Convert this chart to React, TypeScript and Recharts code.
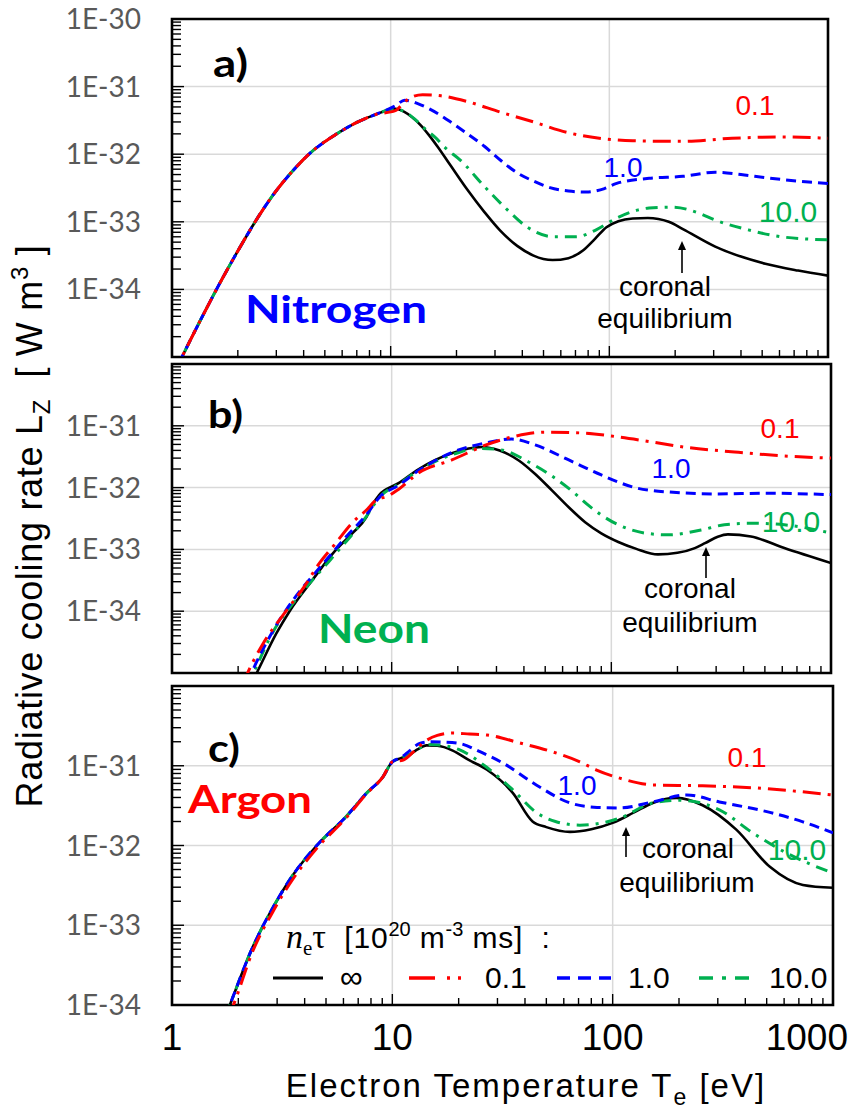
import React from "react";
import { LineChart, Line, XAxis, YAxis, CartesianGrid, ReferenceArea } from "recharts";

// ---------- tick values / labels ----------
const X_MAJOR = [1, 10, 100, 1000];
const X_MAJOR_LABELS = ["1", "10", "100", "1000"];
const MULT = [1, 2, 3, 4, 5, 6, 7, 8, 9];

const yMajorA = [1e-35, 1e-34, 1e-33, 1e-32, 1e-31, 1e-30];
const yLabelsA = ["", "1E-34", "1E-33", "1E-32", "1E-31", "1E-30"];
const yMajorB = [1e-35, 1e-34, 1e-33, 1e-32, 1e-31, 1e-30];
const yLabelsB = ["", "1E-34", "1E-33", "1E-32", "1E-31", ""];
const yMajorC = [1e-34, 1e-33, 1e-32, 1e-31, 1e-30];
const yLabelsC = ["1E-34", "1E-33", "1E-32", "1E-31", ""];

// ---------- Nitrogen ----------
const nRiseT = [1.0, 1.2, 1.45, 1.7, 2.0, 2.4, 2.9, 3.5, 4.4, 5.5, 7.0, 8.5];
const nRiseL = [5.0e-36, 1.66e-35, 5.5e-35, 1.45e-34, 3.7e-34, 1.0e-33, 2.5e-33, 5.3e-33, 1.12e-32, 1.88e-32, 2.95e-32, 3.85e-32];
const nInfT = [10.5, 11.5, 12.5, 13.7, 15, 16.4, 18.8, 22.4, 26.9, 31.7, 37.9, 45, 55, 65, 76, 86, 97, 110, 128, 150, 187, 217, 305, 517, 730, 1000];
const nInfL = [4.7e-32, 4.27e-32, 3.55e-32, 2.7e-32, 1.9e-32, 1.29e-32, 6.8e-33, 3.0e-33, 1.38e-33, 7.4e-34, 4.4e-34, 3.16e-34, 2.72e-34, 2.9e-34, 3.8e-34, 5.6e-34, 8.3e-34, 1.02e-33, 1.12e-33, 1.14e-33, 1.0e-33, 7.8e-34, 4.3e-34, 2.4e-34, 1.9e-34, 1.6e-34];
const n10T = [10.5, 11.5, 12.9, 14.5, 15.9, 18, 20.8, 26.9, 34.2, 42, 55.7, 70.6, 87, 107.6, 152, 195, 256, 305, 432, 613, 1000];
const n10L = [4.7e-32, 4.3e-32, 3.3e-32, 2.3e-32, 1.8e-32, 1.2e-32, 8.2e-33, 3.3e-33, 1.5e-33, 8.4e-34, 6.0e-34, 6.0e-34, 7.6e-34, 1.13e-33, 1.6e-33, 1.65e-33, 1.35e-33, 1.06e-33, 7.6e-34, 6.0e-34, 5.4e-34];
const n1T = [10.5, 11.6, 13.3, 15, 18.8, 22, 26.9, 32, 37.9, 45, 53.5, 65, 78.5, 95, 108, 152, 217, 305, 400, 517, 730, 1000];
const n1L = [5.2e-32, 6.3e-32, 5.6e-32, 4.7e-32, 3.0e-32, 2.1e-32, 1.3e-32, 8.0e-33, 5.3e-33, 4.0e-33, 3.2e-33, 2.85e-33, 2.75e-33, 3.1e-33, 3.7e-33, 4.4e-33, 4.7e-33, 5.4e-33, 5.0e-33, 4.5e-33, 4.0e-33, 3.7e-33];
const n01T = [10.5, 11.5, 12.5, 14, 17, 22.4, 31.7, 45, 64, 90, 128, 217, 364, 613, 1000];
const n01L = [4.4e-32, 5.8e-32, 7.0e-32, 7.6e-32, 7.3e-32, 6.0e-32, 4.2e-32, 3.0e-32, 2.1e-32, 1.72e-32, 1.58e-32, 1.55e-32, 1.72e-32, 1.8e-32, 1.72e-32];

// ---------- Neon ----------
const neInfT = [2.3, 2.43, 2.99, 3.43, 4.3, 5.6, 6.6, 7.66, 8.16, 8.77, 10.8, 13.3, 18.8, 25.7, 31, 37.9, 45, 53.5, 64, 76, 90, 107.6, 130, 163, 200, 240, 267, 305, 339, 432, 613, 1000];
const neInfL = [6.8e-36, 1e-35, 4.4e-35, 1e-34, 3.0e-34, 1e-33, 1.8e-33, 3.3e-33, 5.2e-33, 7.6e-33, 1.19e-32, 2.0e-32, 3.6e-32, 4.54e-32, 3.98e-32, 2.75e-32, 1.66e-32, 9.1e-33, 4.8e-33, 2.75e-33, 1.82e-33, 1.32e-33, 1.02e-33, 8.3e-34, 8.8e-34, 1.05e-33, 1.26e-33, 1.6e-33, 1.75e-33, 1.62e-33, 1.05e-33, 6e-34];
const ne10T = [2.2, 2.35, 2.9, 3.7, 5.3, 7.66, 8.8, 10.8, 13.3, 18.8, 25, 31.6, 42, 53.5, 65.7, 78.5, 90, 107.6, 142, 181, 256, 327, 432, 613, 1000];
const ne10L = [6e-36, 1e-35, 4.8e-35, 1.6e-34, 7e-34, 3.4e-33, 7e-33, 1.15e-32, 1.9e-32, 3.4e-32, 4.3e-32, 4.07e-32, 2.6e-32, 1.55e-32, 9.0e-33, 5.2e-33, 3.6e-33, 2.5e-33, 1.84e-33, 1.72e-33, 2.06e-33, 2.5e-33, 2.65e-33, 2.5e-33, 1.84e-33];
const ne1T = [2.2, 2.3, 2.9, 3.6, 4.8, 6.3, 7.66, 8.8, 10.8, 13.3, 18.8, 26.9, 35.2, 45, 64, 90, 128, 181, 305, 517, 1000];
const ne1L = [7e-36, 1e-35, 5e-35, 1.6e-34, 5.5e-34, 1.7e-33, 3.6e-33, 7e-33, 1.1e-32, 1.9e-32, 3.7e-32, 5.3e-32, 6.1e-32, 4.9e-32, 2.8e-32, 1.6e-32, 1.0e-32, 8.5e-33, 7.9e-33, 8.1e-33, 7.7e-33];
const ne01T = [2.1, 2.21, 2.6, 3.19, 4.0, 4.69, 5.5, 6.62, 7.66, 8.6, 9.45, 10.8, 13.3, 18.8, 26.9, 36.6, 50, 76, 107.6, 152, 217, 364, 613, 1000];
const ne01L = [6.5e-36, 1e-35, 3e-35, 8.5e-35, 2.5e-34, 6e-34, 1.2e-33, 2.7e-33, 4.3e-33, 6.5e-33, 7.1e-33, 9.5e-33, 1.74e-32, 2.8e-32, 4.9e-32, 6.8e-32, 7.9e-32, 7.6e-32, 6.6e-32, 5.5e-32, 4.5e-32, 3.77e-32, 3.25e-32, 3.0e-32];

// ---------- Argon ----------
const arRiseT = [1.75, 1.83, 2.33, 2.87, 3.54, 4.54, 6.2, 7.66, 9.05, 10];
const arRiseL = [7.3e-35, 1e-34, 5.4e-34, 1.66e-33, 4.27e-33, 1.0e-32, 2.34e-32, 4.57e-32, 7.2e-32, 1.12e-31];
const arInfT = [11, 12, 13, 14.3, 16, 18.8, 22, 26.9, 35.2, 43.3, 50, 64, 80, 100, 125, 152, 195, 256, 364, 517, 730, 1000];
const arInfL = [1.25e-31, 1.38e-31, 1.6e-31, 1.8e-31, 1.78e-31, 1.55e-31, 1.2e-31, 8.9e-32, 4.57e-32, 2.0e-32, 1.7e-32, 1.48e-32, 1.6e-32, 1.92e-32, 2.6e-32, 3.42e-32, 3.96e-32, 3.2e-32, 1.58e-32, 5.4e-33, 3.2e-33, 2.95e-33];
const ar10T = [11, 12, 13.5, 15, 17, 20, 26.9, 35.2, 45, 55, 71, 107.6, 152, 200, 305, 432, 613, 1000];
const ar10L = [1.25e-31, 1.4e-31, 1.7e-31, 1.85e-31, 1.8e-31, 1.6e-31, 9.5e-32, 5.0e-32, 2.6e-32, 2.0e-32, 1.8e-32, 2.2e-32, 3.42e-32, 3.7e-32, 2.8e-32, 1.44e-32, 8.1e-33, 4.5e-33];
const ar1T = [11, 12, 13.3, 15, 17, 20.2, 25, 31.8, 45, 64, 85, 107.6, 152, 217, 305, 517, 730, 1000];
const ar1L = [1.28e-31, 1.55e-31, 1.9e-31, 2.0e-31, 1.98e-31, 1.9e-31, 1.5e-31, 1.08e-31, 5.75e-32, 3.42e-32, 3.0e-32, 2.96e-32, 3.52e-32, 4.3e-32, 3.52e-32, 2.6e-32, 1.98e-32, 1.44e-32];
const ar01T = [1.8, 1.9, 2.33, 2.87, 3.54, 4.54, 6.2, 7.66, 9.05, 10, 11.2, 12.5, 14, 16, 18.8, 22.4, 26.9, 37.9, 53.5, 71, 84, 107.6, 152, 256, 432, 1000];
const ar01L = [7e-35, 1e-34, 4.8e-34, 1.48e-33, 3.8e-33, 9.2e-33, 2.25e-32, 4.5e-32, 7.2e-32, 1.12e-31, 1.18e-31, 1.5e-31, 2.0e-31, 2.4e-31, 2.57e-31, 2.5e-31, 2.43e-31, 1.93e-31, 1.49e-31, 1.12e-31, 8.9e-32, 7e-32, 5.75e-32, 5.6e-32, 5.3e-32, 4.3e-32];

// ---------- helpers ----------
const mk = (T: number[], L: number[]) => T.map((t, i) => ({ x: t, y: L[i] }));
const xTicks = [1, 10, 100].flatMap((d) => MULT.map((m) => m * d)).concat([1000]);
const minorTicks = (major: number[]) =>
  major.slice(0, -1).flatMap((d) => MULT.map((m) => m * d)).concat([major[major.length - 1]]);

const W = 855;
const PLOT_LEFT = 172;
const FONT = "'Liberation Sans', Arial, sans-serif";

const STYLE = {
  inf: { color: "#000000", dash: undefined as string | undefined, width: 2.6 },
  p10: { color: "#00B050", dash: "12 7 3 7", width: 3 },
  p1: { color: "#0000FF", dash: "10 6", width: 3 },
  p01: { color: "#FF0000", dash: "18 7 3 7", width: 3 },
};

const isNear = (a: number, b: number) => Math.abs(a / b - 1) < 1e-6;

const makeYTick = (major: number[], labels: string[]) => (props: any) => {
  const { y, payload, index } = props;
  const v = payload.value;
  const mi = major.findIndex((m) => isNear(v, m));
  const isMajor = mi >= 0;
  const label = isMajor ? labels[mi] : "";
  return (
    <g key={`yt-${index}`}>
      <line x1={PLOT_LEFT} x2={PLOT_LEFT + (isMajor ? 12 : 9)} y1={y} y2={y} stroke="#000" strokeWidth={1.4} />
      {label ? (
        <text x={141} y={y} dy="0.36em" textAnchor="end" fill="#595959" fontFamily="Lato, sans-serif" fontSize={28}>
          {label}
        </text>
      ) : null}
    </g>
  );
};

const makeXTick = (plotBottom: number, showLabels: boolean, labelBaseline: number) => (props: any) => {
  const { x, payload, index } = props;
  const v = payload.value;
  const mi = X_MAJOR.findIndex((m) => isNear(v, m));
  const isMajor = mi >= 0;
  const last = mi === X_MAJOR.length - 1;
  return (
    <g key={`xt-${index}`}>
      <line x1={x} x2={x} y1={plotBottom} y2={plotBottom - (isMajor ? 11 : 7)} stroke="#000" strokeWidth={1.4} />
      {showLabels && isMajor ? (
        <text x={last ? 848 : x} y={labelBaseline} textAnchor={last ? "end" : "middle"} fill="#000" fontFamily={FONT} fontSize={37}>
          {X_MAJOR_LABELS[mi]}
        </text>
      ) : null}
    </g>
  );
};

type SeriesDef = { data: { x: number; y: number }[]; style: { color: string; dash?: string; width: number } };

function Panel(p: {
  top: number; height: number; mt: number; mb: number; xh: number; plotBottom: number; right: number;
  yDomain: [number, number]; yMajor: number[]; yLabels: string[]; series: SeriesDef[]; xLabels: boolean; labelBaseline: number;
}) {
  const yTicks = minorTicks(p.yMajor);
  return (
    <div style={{ position: "absolute", left: 0, top: p.top, width: W, height: p.height }}>
      <LineChart width={W} height={p.height} margin={{ top: p.mt, right: W - p.right, bottom: p.mb, left: 0 }}>
        <CartesianGrid
          stroke="#d9d9d9"
          strokeWidth={1.5}
          horizontalValues={p.yMajor.slice(1, -1)}
          verticalValues={[10, 100]}
        />
        <XAxis
          type="number"
          dataKey="x"
          scale="log"
          domain={[1, 1000]}
          ticks={xTicks}
          interval={0}
          allowDataOverflow
          axisLine={false}
          tickLine={false}
          height={p.xh}
          tick={makeXTick(p.plotBottom, p.xLabels, p.labelBaseline)}
        />
        <YAxis
          type="number"
          dataKey="y"
          scale="log"
          domain={p.yDomain}
          ticks={yTicks}
          interval={0}
          allowDataOverflow
          axisLine={false}
          tickLine={false}
          width={PLOT_LEFT}
          tick={makeYTick(p.yMajor, p.yLabels)}
        />
        {p.series.map((s, i) => (
          <Line
            key={i}
            data={s.data}
            dataKey="y"
            type="monotone"
            stroke={s.style.color}
            strokeDasharray={s.style.dash}
            strokeWidth={s.style.width}
            dot={false}
            activeDot={false}
            isAnimationActive={false}
          />
        ))}
        <ReferenceArea x1={1} x2={1000} y1={p.yDomain[0]} y2={p.yDomain[1]} fill="none" stroke="#000" strokeWidth={2.6} ifOverflow="visible" />
      </LineChart>
    </div>
  );
}

const Arrow = ({ x, y1, y2 }: { x: number; y1: number; y2: number }) => (
  <g>
    <line x1={x} x2={x} y1={y1} y2={y2 + 6} stroke="#000" strokeWidth={1.6} />
    <polygon points={`${x - 4},${y2 + 9} ${x + 4},${y2 + 9} ${x},${y2}`} fill="#000" />
  </g>
);

const Txt = (p: any) => <text fontFamily={FONT} fontSize={28} textAnchor="middle" {...p} />;

export default function App() {
  const nitrogen: SeriesDef[] = [
    { data: mk(nRiseT.concat(nInfT), nRiseL.concat(nInfL)), style: STYLE.inf },
    { data: mk(nRiseT.concat(n10T), nRiseL.concat(n10L)), style: STYLE.p10 },
    { data: mk(nRiseT.concat(n1T), nRiseL.concat(n1L)), style: STYLE.p1 },
    { data: mk(nRiseT.concat(n01T), nRiseL.concat(n01L)), style: STYLE.p01 },
  ];
  const neon: SeriesDef[] = [
    { data: mk(neInfT, neInfL), style: STYLE.inf },
    { data: mk(ne10T, ne10L), style: STYLE.p10 },
    { data: mk(ne1T, ne1L), style: STYLE.p1 },
    { data: mk(ne01T, ne01L), style: STYLE.p01 },
  ];
  const argon: SeriesDef[] = [
    { data: mk(arRiseT.concat(arInfT), arRiseL.concat(arInfL)), style: STYLE.inf },
    { data: mk(arRiseT.concat(ar10T), arRiseL.concat(ar10L)), style: STYLE.p10 },
    { data: mk(arRiseT.concat(ar1T), arRiseL.concat(ar1L)), style: STYLE.p1 },
    { data: mk(ar01T, ar01L), style: STYLE.p01 },
  ];

  return (
    <div style={{ position: "absolute", left: 0, top: 0, width: W, height: 1113, background: "#fff", overflow: "hidden" }}>
      <Panel top={0} height={362} mt={19} mb={0} xh={5} plotBottom={357} right={828}
        yDomain={[1e-35, 1e-30]} yMajor={yMajorA} yLabels={yLabelsA} series={nitrogen} xLabels={false} labelBaseline={0} />
      <Panel top={362} height={313} mt={2} mb={0} xh={2} plotBottom={311} right={831}
        yDomain={[1e-35, 1e-30]} yMajor={yMajorB} yLabels={yLabelsB} series={neon} xLabels={false} labelBaseline={0} />
      <Panel top={675} height={438} mt={11} mb={48} xh={60} plotBottom={330} right={833}
        yDomain={[1e-34, 1e-30]} yMajor={yMajorC} yLabels={yLabelsC} series={argon} xLabels={true} labelBaseline={375} />

      <svg width={W} height={1113} style={{ position: "absolute", left: 0, top: 0, pointerEvents: "none" }}>
        {/* axis titles */}
        <text x={42} y={526} transform="rotate(-90 42 526)" textAnchor="middle" fontFamily={FONT} fontSize={36}
          letterSpacing={0.7} style={{ whiteSpace: "pre" }} fill="#000">
          Radiative cooling rate L<tspan fontSize={24} dy={8}>Z</tspan>
          <tspan dy={-8}>{"  [ W m"}</tspan>
          <tspan fontSize={24} dy={-14}>3</tspan>
          <tspan dy={14}>{" ]"}</tspan>
        </text>
        <text x={526} y={1097} textAnchor="middle" fontFamily={FONT} fontSize={33} letterSpacing={2} style={{ whiteSpace: "pre" }} fill="#000">
          Electron Temperature T<tspan fontSize={23} dy={8}>e</tspan>
          <tspan dy={-8}>{" [eV]"}</tspan>
        </text>

        {/* panel labels */}
        <text x={213} y={77} fontFamily="Lato, sans-serif" fontWeight={700} fontSize={38} fill="#000" textLength={35} lengthAdjust="spacingAndGlyphs">a)</text>
        <text x={208} y={428} fontFamily="Lato, sans-serif" fontWeight={700} fontSize={38} fill="#000" textLength={35} lengthAdjust="spacingAndGlyphs">b)</text>
        <text x={208} y={762} fontFamily="Lato, sans-serif" fontWeight={700} fontSize={38} fill="#000" textLength={32} lengthAdjust="spacingAndGlyphs">c)</text>

        <text x={245} y={323} fontFamily="Lato, sans-serif" fontWeight={700} fontSize={38} fill="#0000FF" textLength={182} lengthAdjust="spacingAndGlyphs">Nitrogen</text>
        <text x={318} y={643} fontFamily="Lato, sans-serif" fontWeight={700} fontSize={40} fill="#00B050" textLength={112} lengthAdjust="spacingAndGlyphs">Neon</text>
        <text x={188} y={813} fontFamily="Lato, sans-serif" fontWeight={700} fontSize={38} fill="#FF0000" textLength={124} lengthAdjust="spacingAndGlyphs">Argon</text>

        {/* panel a annotations */}
        <Txt x={755} y={115} fill="#FF0000">0.1</Txt>
        <Txt x={623} y={177} fill="#0000FF">1.0</Txt>
        <Txt x={788} y={222} fill="#00B050" fontSize={30}>10.0</Txt>
        <Txt x={665} y={296} fill="#000">coronal</Txt>
        <Txt x={665} y={328} fill="#000">equilibrium</Txt>
        <Arrow x={682} y1={273} y2={241} />

        {/* panel b annotations */}
        <Txt x={780} y={438} fill="#FF0000">0.1</Txt>
        <Txt x={671} y={478} fill="#0000FF">1.0</Txt>
        <Txt x={791} y={532} fill="#00B050" fontSize={30}>10.0</Txt>
        <Txt x={690} y={598} fill="#000">coronal</Txt>
        <Txt x={690} y={632} fill="#000">equilibrium</Txt>
        <Arrow x={706} y1={578} y2={547} />

        {/* panel c annotations */}
        <Txt x={747} y={767} fill="#FF0000">0.1</Txt>
        <Txt x={577} y={795} fill="#0000FF">1.0</Txt>
        <Txt x={797} y={860} fill="#00B050" fontSize={30}>10.0</Txt>
        <Txt x={688} y={858} fill="#000">coronal</Txt>
        <Txt x={687} y={892} fill="#000">equilibrium</Txt>
        <Arrow x={626} y1={857} y2={827} />

        {/* legend */}
        <text x={286} y={948} fontFamily={FONT} fontSize={30} fill="#000" style={{ whiteSpace: "pre" }}>
          <tspan fontFamily="'Liberation Serif', serif" fontStyle="italic" fontSize={34}>n</tspan>
          <tspan fontFamily="'Liberation Serif', serif" fontSize={21} dy={7}>e</tspan>
          <tspan fontFamily="'Liberation Serif', serif" fontSize={34} dy={-7}>τ</tspan>
          <tspan letterSpacing={0.8}>{"  [10"}</tspan>
          <tspan fontSize={20} dy={-12}>20</tspan>
          <tspan dy={12} letterSpacing={0.8}>{" m"}</tspan>
          <tspan fontSize={20} dy={-12}>-3</tspan>
          <tspan dy={12} letterSpacing={0.8}>{" ms]  :"}</tspan>
        </text>
        <line x1={273} x2={323} y1={978} y2={978} stroke={STYLE.inf.color} strokeWidth={3} />
        <text x={340} y={988} fontFamily={FONT} fontSize={32} fill="#000">∞</text>
        <line x1={409} x2={468} y1={978} y2={978} stroke={STYLE.p01.color} strokeWidth={3.5} strokeDasharray="26 12 3 8 3 8" />
        <text x={485} y={988} fontFamily={FONT} fontSize={30} fill="#000">0.1</text>
        <line x1={557} x2={611} y1={978} y2={978} stroke={STYLE.p1.color} strokeWidth={3.5} strokeDasharray="13 8" />
        <text x={628} y={988} fontFamily={FONT} fontSize={30} fill="#000">1.0</text>
        <line x1={699} x2={758} y1={978} y2={978} stroke={STYLE.p10.color} strokeWidth={3.5} strokeDasharray="14 9 4 9 14" />
        <text x={769} y={988} fontFamily={FONT} fontSize={30} fill="#000">10.0</text>
      </svg>
    </div>
  );
}
